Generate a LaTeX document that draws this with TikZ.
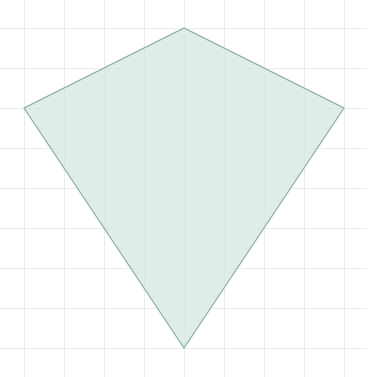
\documentclass[tikz,border=0pt]{standalone}
\definecolor{gridc}{RGB}{234,236,235}
\definecolor{kitefill}{RGB}{212,230,222}
\definecolor{kitedraw}{RGB}{150,184,172}
\begin{document}
\begin{tikzpicture}[x=40pt,y=40pt,
  gridline/.style={draw=gridc, line width=0.9pt},
  kite/.style={draw=kitedraw, fill=kitefill, fill opacity=0.7, line width=1.2pt, line join=round}]
\useasboundingbox (-0.6,-8.725) rectangle (8.575,0.7);
\fill[white] (-0.6,-8.725) rectangle (8.575,0.7);
\foreach \i in {0,...,8} {
  \draw[gridline] (\i,-8.725) -- (\i,0.7);
  \draw[gridline] (-0.6,-\i) -- (8.575,-\i);
}
\coordinate (T) at (4,0);
\coordinate (L) at (0,-2);
\coordinate (R) at (8,-2);
\coordinate (B) at (4,-8);
\draw[kite] (T) -- (R) -- (B) -- (L) -- cycle;
\end{tikzpicture}
\end{document}
